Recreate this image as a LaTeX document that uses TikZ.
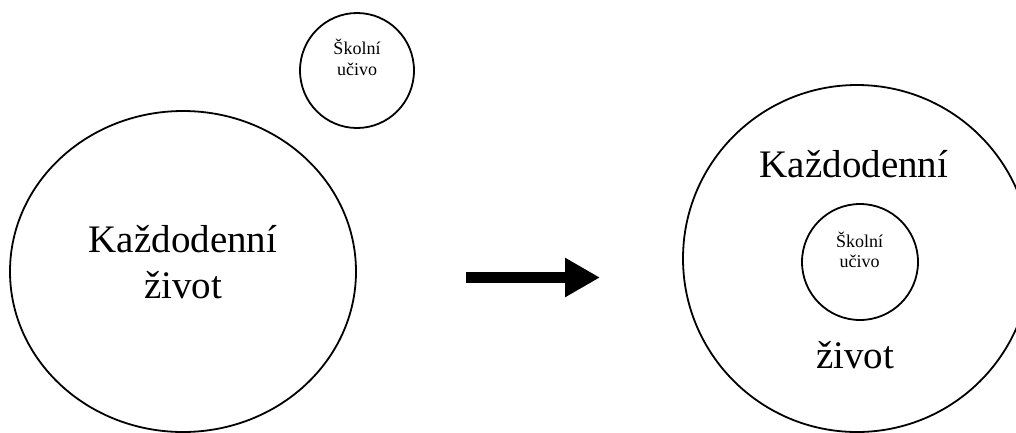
\documentclass[tikz,border=0pt]{standalone}
\usepackage{fontspec}
\setmainfont{Liberation Serif}
\usetikzlibrary{shapes.geometric,arrows.meta}
\tikzset{
  ring/.style={draw=black, line width=1.8pt, ellipse, inner sep=0pt, outer sep=0pt},
  bigtext/.style={font=\fontsize{39}{45}\selectfont, anchor=base, inner sep=0pt},
  smalltext/.style={font=\fontsize{18}{21}\selectfont, anchor=base, inner sep=0pt},
  bigarrow/.style={line width=11.5pt, -{Triangle[length=35pt,width=37pt]}}
}
\begin{document}
\begin{tikzpicture}[x=1pt,y=-1pt]
\useasboundingbox (0,0) rectangle (1016,432);
\clip (0,0) rectangle (1016,432);
% left group
\node[ring, minimum width=346pt, minimum height=321pt] (life) at (183,271.5) {};
\node[bigtext] (lifeA) at (183,252) {Každodenní};
\node[bigtext] (lifeB) at (183,298) {život};
\node[ring, minimum width=114pt, minimum height=115pt] (school) at (357,70.5) {};
\node[smalltext] (schoolA) at (357,54) {Školní};
\node[smalltext] (schoolB) at (357,75) {učivo};
% arrow
\coordinate (a1) at (466,277.5);
\coordinate (a2) at (600,277.5);
\draw[bigarrow] (a1) -- (a2);
% right group
\node[ring, minimum width=348pt, minimum height=347pt] (life2) at (857,258.5) {};
\node[bigtext] (life2A) at (854,177) {Každodenní};
\node[bigtext] (life2B) at (855,368) {život};
\node[ring, minimum width=116pt, minimum height=116pt] (school2) at (860,262) {};
\node[smalltext] (school2A) at (859.5,247) {Školní};
\node[smalltext] (school2B) at (859.5,267) {učivo};
\end{tikzpicture}
\end{document}
